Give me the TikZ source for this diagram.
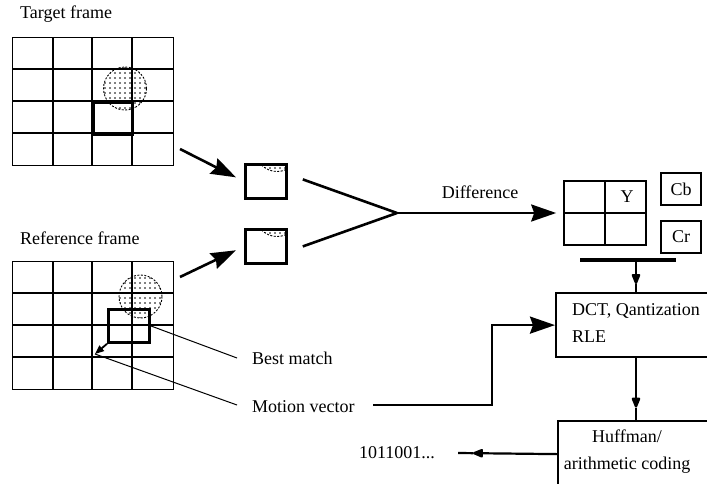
\documentclass[tikz,border=0pt]{standalone}
\usepackage{fontspec}
\setmainfont{Liberation Serif}
\usetikzlibrary{arrows.meta,patterns.meta}
\begin{document}
\begin{tikzpicture}[x=1pt,y=-1pt,
  txt/.style={font=\fontsize{18}{27}\selectfont, inner sep=0pt},
  gridline/.style={line width=1.4pt},
  framebox/.style={draw, line width=1.4pt, inner sep=0pt, anchor=north west},
  matchbox/.style={draw, line width=2.8pt, inner sep=0pt, anchor=north west},
  blockbox/.style={draw, line width=2.2pt, inner sep=0pt, anchor=north west},
  smallbox/.style={draw, line width=2.8pt, inner sep=0pt, anchor=north west},
  spot/.style={pattern={Dots[distance=5pt,radius=0.9pt]}, draw, dashed, dash pattern=on 2pt off 1.5pt, line width=0.9pt},
  bigarrow/.style={line width=2.6pt, -{Stealth[length=25pt,width=17pt,inset=3pt]}},
  thinline/.style={line width=1pt},
  flow/.style={line width=2.2pt},
  smallhead/.style={line width=2.2pt, -{Triangle[length=12pt,width=9pt,round]}}
]
\useasboundingbox (0,0) rectangle (707,483);
\clip (0,0) rectangle (707,483);

% ---------- Target frame ----------
\node[txt, anchor=west] (tlabel) at (20,14) {Target frame};
\fill[spot] (125,88.5) circle (21.5);
\node[framebox, minimum width=161pt, minimum height=128pt] (tf) at (12,37) {};
\foreach \x in {53,92,132} \draw[gridline] (\x,37) -- (\x,165);
\foreach \y in {69,101,133} \draw[gridline] (12,\y) -- (173,\y);
\node[matchbox, minimum width=39pt, minimum height=32pt] (tm) at (92,101) {};

% ---------- Reference frame ----------
\node[txt, anchor=west] (rlabel) at (20,238) {Reference frame};
\fill[spot] (140.5,296.5) circle (21.5);
\node[framebox, minimum width=161pt, minimum height=128pt] (rf) at (12,261) {};
\foreach \x in {53,92,132} \draw[gridline] (\x,261) -- (\x,389);
\foreach \y in {293,325,357} \draw[gridline] (12,\y) -- (173,\y);
\node[matchbox, minimum width=41pt, minimum height=33pt] (rm) at (107,308) {};
\coordinate (mvtip) at (95,354);
\draw[line width=1.8pt, -{Triangle[length=9pt,width=7pt]}] (rm.south west) -- (mvtip);

% ---------- Labels with leader lines ----------
\node[txt, anchor=west] (best) at (252,358) {Best match};
\node[txt, anchor=west] (mv) at (252,407) {Motion vector};
\draw[thinline] (rm.east) -- ([xshift=-15pt]best.west);
\draw[thinline] (mvtip) -- ([xshift=-15pt,yshift=2pt]mv.west);

% ---------- Small blocks ----------
\begin{scope}
  \clip (244,163) rectangle (285,197);
  \fill[spot] (277,150) circle (21.5);
\end{scope}
\begin{scope}
  \clip (244,228) rectangle (285,262);
  \fill[spot] (277,215) circle (21.5);
\end{scope}
\node[smallbox, minimum width=41pt, minimum height=34pt] (ub) at (244,163) {};
\node[smallbox, minimum width=41pt, minimum height=34pt] (lb) at (244,228) {};

\coordinate (tfout) at (180,149);
\coordinate (rfout) at (180,277);
\draw[bigarrow, shorten >=9pt] (tfout) -- (ub.west);
\draw[bigarrow, shorten >=9pt] (rfout) -- (lb.west);

\coordinate (join) at (397,213);
\draw[line width=2.6pt] ([xshift=15pt,yshift=2pt]ub.east) -- (join);
\draw[line width=2.6pt] ([xshift=15pt]lb.east) -- (join);

% ---------- Y / Cb / Cr ----------
\node[draw, line width=1.6pt, minimum width=82pt, minimum height=64pt, inner sep=0pt] (ybox) at (605,213) {};
\draw[line width=1.6pt] (ybox.north) -- (ybox.south);
\draw[line width=1.6pt] (ybox.west) -- (ybox.east);
\node[txt] (ylab) at (627,197) {Y};
\node[draw, line width=1.6pt, minimum width=40pt, minimum height=32pt, txt] (cb) at (681,189) {Cb};
\node[draw, line width=1.6pt, minimum width=40pt, minimum height=32pt, txt] (cr) at (681,237) {Cr};

\draw[bigarrow, shorten >=7pt] (join) -- node[txt, above=13pt] (diff) {Difference} (ybox.west);

\coordinate (barl) at (580,260);
\coordinate (barr) at (676,260);
\coordinate (barm) at (636,260);
\draw[line width=3.2pt] (barl) -- (barr);

% ---------- DCT block ----------
\node[blockbox, minimum width=200pt, minimum height=64pt] (dct) at (555,292) {};
\node[txt, anchor=west, align=left] (dcttxt) at (572,323.5) {DCT, Qantization\\RLE};
\path (barm) -- (barm |- dct.north) coordinate[pos=0.75] (a1);
\draw[smallhead] (barm) -- (a1);
\draw[flow] (a1) -- (barm |- dct.north);

% ---------- Huffman block ----------
\node[blockbox, minimum width=200pt, minimum height=66pt] (hf) at (557,420) {};
\node[txt, align=center] (hftxt) at (627,451.5) {Huffman/\\arithmetic coding};
\path (barm |- dct.south) -- (barm |- hf.north) coordinate[pos=0.8] (a2);
\draw[smallhead] (barm |- dct.south) -- (a2);
\draw[flow] (a2) -- (barm |- hf.north);

\node[txt] (bits) at (397,453) {1011001...};
\path (hf.west) -- ([xshift=23pt]bits.east) coordinate[pos=0.85] (a3);
\draw[smallhead] (hf.west) -- (a3);
\draw[flow] (a3) -- ([xshift=23pt]bits.east);

% ---------- Motion vector path ----------
\coordinate (mvout) at (373,405);
\draw[bigarrow] (mvout) -- (492,405) |- (dct.west);
\end{tikzpicture}
\end{document}
